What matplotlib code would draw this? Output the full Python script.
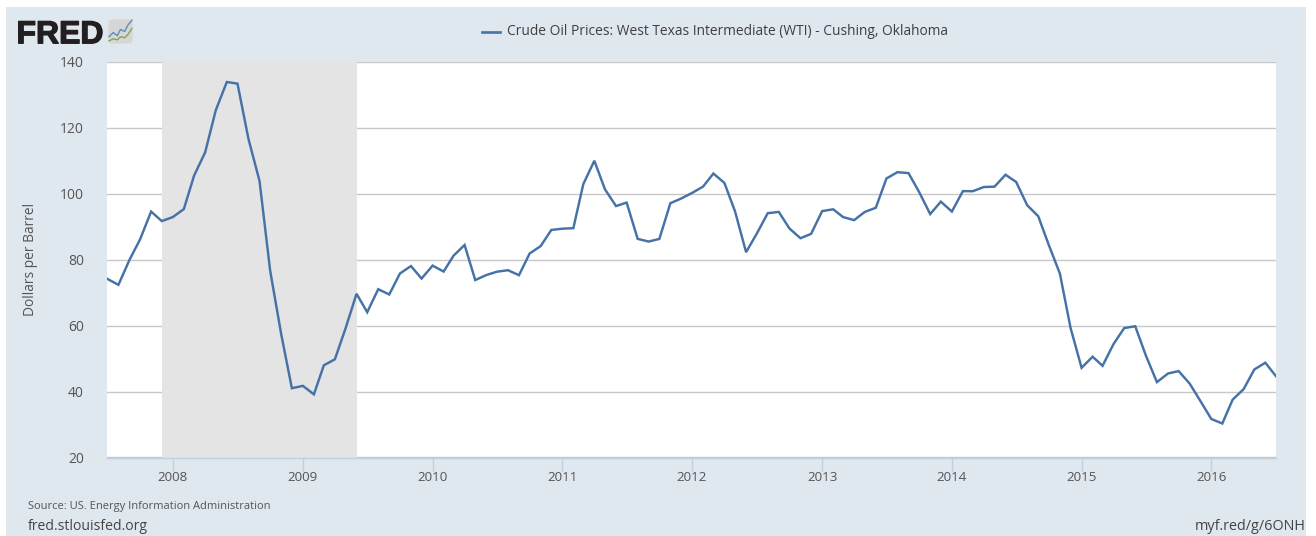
import matplotlib
matplotlib.use("Agg")
import matplotlib.pyplot as plt
import matplotlib.dates as mdates
import matplotlib.patheffects as pe
from matplotlib.patches import Rectangle, FancyBboxPatch
import pandas as pd

plt.rcParams['font.family'] = ['Open Sans', 'DejaVu Sans']

W, H = 1316, 536
prices = [74.18, 72.39, 79.93, 86.20, 94.62, 91.73,
          92.95, 95.35, 105.56, 112.57, 125.39, 133.93, 133.44, 116.61, 103.90, 76.65, 57.44, 41.02,
          41.74, 39.16, 47.98, 49.79, 59.16, 69.68, 64.09, 71.06, 69.46, 75.82, 78.08, 74.30,
          78.22, 76.42, 81.24, 84.48, 73.84, 75.35, 76.37, 76.83, 75.31, 81.90, 84.14, 89.04,
          89.42, 89.58, 102.94, 110.04, 101.36, 96.29, 97.34, 86.33, 85.52, 86.32, 97.16, 98.56,
          100.27, 102.20, 106.16, 103.32, 94.66, 82.30, 87.90, 94.13, 94.51, 89.49, 86.53, 87.86,
          94.76, 95.31, 92.94, 92.02, 94.51, 95.77, 104.67, 106.57, 106.29, 100.54, 93.86, 97.63,
          94.62, 100.82, 100.80, 102.07, 102.18, 105.79, 103.59, 96.54, 93.21, 84.40, 75.79, 59.29,
          47.22, 50.58, 47.82, 54.45, 59.27, 59.82, 50.90, 42.87, 45.48, 46.22, 42.44, 37.19,
          31.68, 30.32, 37.55, 40.75, 46.71, 48.76, 44.65]
dates = pd.date_range("2007-07-01", periods=len(prices), freq="MS")
y_ticks = [20, 40, 60, 80, 100, 120, 140]
x_years = list(range(2008, 2017))
recession = ("2007-12-01", "2009-06-01")
series_name = "Crude Oil Prices: West Texas Intermediate (WTI) - Cushing, Oklahoma"
y_label = "Dollars per Barrel"
source = "Source: US. Energy Information Administration"
site = "fred.stlouisfed.org"
short_url = "myf.red/g/6ONH"

BG = "#dfe7ef"
LINE = "#4572a7"
TXT = "#555555"

fig = plt.figure(figsize=(W/100, H/100), dpi=100, facecolor="white")
fig.add_artist(Rectangle((6/W, 0), 1300/W, 529/H, transform=fig.transFigure,
                         facecolor=BG, edgecolor="none", zorder=-10))

ax = fig.add_axes([107.4/W, 1-457.5/H, 1168.6/W, 395.5/H], facecolor="white")
ax.set_xlim(dates[0], dates[-1])
ax.set_ylim(20, 140)
ax.axvspan(pd.Timestamp(recession[0]), pd.Timestamp(recession[1]), color="#e4e4e4", lw=0, zorder=1)
ax.set_yticks(y_ticks)
ax.grid(axis="y", color="#c8c8c8", lw=1.0, zorder=2)
ax.set_axisbelow(True)
ax.plot(dates, prices, color=LINE, lw=1.75, zorder=3, solid_joinstyle="miter", clip_on=True)

ax.set_xticks([pd.Timestamp(f"{y}-01-01") for y in x_years])
ax.xaxis.set_major_formatter(mdates.DateFormatter("%Y"))
ax.tick_params(axis="x", length=9, width=1, color="#c0d0e0", labelsize=9.6, labelcolor=TXT, pad=0.5)
ax.tick_params(axis="y", length=0, labelsize=10, labelcolor=TXT, pad=17)
for lab in ax.get_yticklabels():
    lab.set_ha("right")
for s in ["top", "left", "right"]:
    ax.spines[s].set_visible(False)
ax.spines["bottom"].set_color("#c0d0e0")
ax.spines["bottom"].set_linewidth(1)
ax.text(-0.0655, 0.5, y_label, transform=ax.transAxes, rotation=90, ha="center", va="center",
        fontsize=9.9, color=TXT)

# Legend
fig.add_artist(plt.Line2D([482/W, 500/W], [1-32/H]*2, color=LINE, lw=1.9))
fig.text(507/W, 1-31.5/H, series_name, fontsize=9.95, color="#3f3f3f", va="center", ha="left")

# Footer
fig.text(28/W, 1-506.5/H, source, fontsize=8.0, color=TXT, va="center")
fig.text(28/W, 1-527/H, site, fontsize=10.05, color="#444444", va="center")
fig.text(1306/W, 1-527/H, short_url, fontsize=10.4, color="#444444", va="center", ha="right")

# Logo
fig.text(16.5/W, 1-43.3/H, "FRED", fontsize=23, fontweight="bold", color="#231f20", va="baseline",
         family=["Liberation Sans", "DejaVu Sans"],
         path_effects=[pe.withStroke(linewidth=0.9, foreground="#231f20")])
icon = fig.add_axes([108/W, 1-44/H, 25/W, 25/H], facecolor="none")
icon.set_xlim(0, 24); icon.set_ylim(0, 24); icon.axis("off")
icon.add_patch(FancyBboxPatch((0.5, 0.5), 23, 23, boxstyle="round,pad=0,rounding_size=3",
                              fc="#d6d6d6", ec="none"))
icon.plot([1, 5, 9, 12, 16, 19, 23], [7, 11, 8, 14, 12, 18, 23], color="#5b8db8", lw=1)
icon.plot([1, 5, 9, 12, 16, 19, 23], [3, 5, 4, 7, 6, 9, 15], color="#7da84f", lw=1)

fig.savefig("out.png", dpi=100, facecolor="white")
